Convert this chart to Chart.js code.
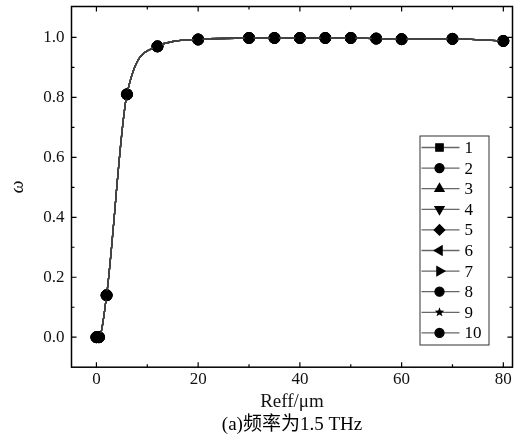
<!DOCTYPE html>
<html>
<head>
<meta charset="utf-8">
<script src="https://cdn.jsdelivr.net/npm/chart.js@4.4.1/dist/chart.umd.min.js"></script>
<style>
html, body { margin: 0; padding: 0; background: #fff; }
#wrap { width: 519px; height: 439px; }
</style>
</head>
<body>
<div id="wrap"><canvas id="myChart"></canvas></div>
<script>
// values
const reff = [0, 0.5, 2, 6, 12, 20, 30, 35, 40, 45, 50, 55, 60, 70, 80];
const omega = [0, 0, 0.14, 0.81, 0.97, 0.993, 0.998, 0.998, 0.998, 0.998, 0.998, 0.996, 0.994, 0.995, 0.988];
const seriesNames = ['1', '2', '3', '4', '5', '6', '7', '8', '9', '10'];
const xTicks = [0, 20, 40, 60, 80];
const yTicks = [0, 0.2, 0.4, 0.6, 0.8, 1.0];

// marker for each series (style only)
const markers = [
    { style: 'rect', rot: 0 },
    { style: 'circle', rot: 0 },
    { style: 'triangle', rot: 0 },
    { style: 'triangle', rot: 180 },
    { style: 'rectRot', rot: 0 },
    { style: 'triangle', rot: 270 },
    { style: 'triangle', rot: 90 },
    { style: 'circle', rot: 0 },
    { style: 'star', rot: 0 },
    { style: 'circle', rot: 0 }
];

const serif = '"Liberation Serif", "Times New Roman", serif';

const datasets = seriesNames.map(function(name, i) {
    return {
        label: name,
        data: reff.map(function(r, k) { return { x: r, y: omega[k] }; }),
        borderColor: '#444',
        borderWidth: 1.3,
        backgroundColor: '#000',
        pointBackgroundColor: '#000',
        pointBorderColor: '#000',
        pointBorderWidth: 1,
        pointRadius: 5.5,
        pointStyle: markers[i].style,
        pointRotation: markers[i].rot,
        cubicInterpolationMode: 'monotone',
        fill: false
    };
});

function drawStar(ctx, cx, cy, r) {
    ctx.beginPath();
    for (let k = 0; k < 10; k++) {
        const rr = k % 2 === 0 ? r : r * 0.42;
        const a = -Math.PI / 2 + k * Math.PI / 5;
        const px = cx + Math.cos(a) * rr, py = cy + Math.sin(a) * rr;
        if (k === 0) ctx.moveTo(px, py); else ctx.lineTo(px, py);
    }
    ctx.closePath();
    ctx.fill();
}

// box, inward ticks and the legend inside the plot
const frame = {
    id: 'frame',
    afterDraw: function(chart) {
        const ctx = chart.ctx;
        const a = chart.chartArea;
        const x = chart.scales.x, y = chart.scales.y;
        ctx.save();
        ctx.strokeStyle = '#000';
        ctx.lineWidth = 1.5;
        ctx.strokeRect(a.left, a.top, a.right - a.left, a.bottom - a.top);

        ctx.lineWidth = 1.2;
        ctx.beginPath();
        xTicks.forEach(function(v, i) {
            const px = x.getPixelForValue(v);
            ctx.moveTo(px, a.bottom); ctx.lineTo(px, a.bottom - 5);
            ctx.moveTo(px, a.top); ctx.lineTo(px, a.top + 5);
            if (i < xTicks.length - 1) {
                const pm = x.getPixelForValue((v + xTicks[i + 1]) / 2);
                ctx.moveTo(pm, a.bottom); ctx.lineTo(pm, a.bottom - 3);
                ctx.moveTo(pm, a.top); ctx.lineTo(pm, a.top + 3);
            }
        });
        yTicks.forEach(function(v, i) {
            const py = y.getPixelForValue(v);
            ctx.moveTo(a.left, py); ctx.lineTo(a.left + 5, py);
            ctx.moveTo(a.right, py); ctx.lineTo(a.right - 5, py);
            if (i < yTicks.length - 1) {
                const pm = y.getPixelForValue((v + yTicks[i + 1]) / 2);
                ctx.moveTo(a.left, pm); ctx.lineTo(a.left + 3, pm);
                ctx.moveTo(a.right, pm); ctx.lineTo(a.right - 3, pm);
            }
        });
        ctx.stroke();

        // legend
        const bx = a.right - 93, by = a.top + 129, bw = 69, bh = 209;
        ctx.fillStyle = '#fff';
        ctx.fillRect(bx, by, bw, bh);
        ctx.lineWidth = 1;
        ctx.strokeStyle = '#333';
        ctx.strokeRect(bx + 0.5, by + 0.5, bw, bh);
        ctx.font = '17px ' + serif;
        ctx.textBaseline = 'middle';
        ctx.textAlign = 'left';
        seriesNames.forEach(function(name, i) {
            const ry = by + 12 + i * 20.6;
            ctx.strokeStyle = '#666';
            ctx.lineWidth = 1.3;
            ctx.beginPath();
            ctx.moveTo(bx + 2, ry); ctx.lineTo(bx + 40, ry);
            ctx.stroke();
            ctx.fillStyle = '#000';
            ctx.strokeStyle = '#000';
            const m = markers[i];
            if (m.style === 'star') {
                drawStar(ctx, bx + 20, ry, 5);
            } else {
                Chart.helpers.drawPoint(ctx, {
                    pointStyle: m.style,
                    rotation: m.rot,
                    radius: m.style === 'circle' ? 4.5 : 5.2,
                    borderWidth: 1
                }, bx + 20, ry);
            }
            ctx.fillStyle = '#000';
            ctx.fillText(name, bx + 45, ry + 1);
        });
        ctx.restore();
    }
};

function noPad(s) {
    s.paddingTop = 0;
    s.paddingBottom = 0;
    s.paddingLeft = 0;
    s.paddingRight = 0;
}

document.addEventListener('DOMContentLoaded', function() {
    const ctx = document.getElementById('myChart').getContext('2d');
    new Chart(ctx, {
        type: 'line',
        data: { datasets: datasets },
        options: {
            responsive: true,
            maintainAspectRatio: false,
            animation: false,
            layout: { padding: { top: 5, right: 3, left: 0, bottom: 0 } },
            plugins: {
                legend: { display: false },
                tooltip: { enabled: false },
                title: {
                    display: true,
                    position: 'bottom',
                    fullSize: false,
                    text: '(a)频率为1.5 THz',
                    color: '#000',
                    font: { family: serif + ', "Noto Sans CJK SC"', size: 19, weight: 'normal' },
                    padding: { top: 0, bottom: 3 }
                }
            },
            scales: {
                x: {
                    type: 'linear',
                    min: -4.9,
                    max: 81.8,
                    grid: { display: false, drawTicks: false },
                    border: { display: false },
                    afterBuildTicks: function(s) { s.ticks = xTicks.map(function(v) { return { value: v }; }); },
                    afterFit: function(s) { s.height = 46; noPad(s); },
                    ticks: { color: '#111', padding: 2, font: { family: serif, size: 17 } },
                    title: {
                        display: true,
                        text: 'Reff/μm',
                        color: '#111',
                        font: { family: serif, size: 19 },
                        padding: { top: 0, bottom: 0 }
                    }
                },
                y: {
                    min: -0.1,
                    max: 1.103,
                    grid: { display: false, drawTicks: false },
                    border: { display: false },
                    afterBuildTicks: function(s) { s.ticks = yTicks.map(function(v) { return { value: v }; }); },
                    afterFit: function(s) { s.width = 71.5; noPad(s); },
                    ticks: {
                        color: '#111',
                        padding: 7,
                        font: { family: serif, size: 17 },
                        callback: function(v) { return Number(v).toFixed(1); }
                    },
                    title: {
                        display: true,
                        text: 'ω',
                        color: '#111',
                        font: { family: serif, size: 18, style: 'italic' },
                        padding: { top: 7, bottom: 0 }
                    }
                }
            }
        },
        plugins: [frame]
    });
});
</script>
</body>
</html>
